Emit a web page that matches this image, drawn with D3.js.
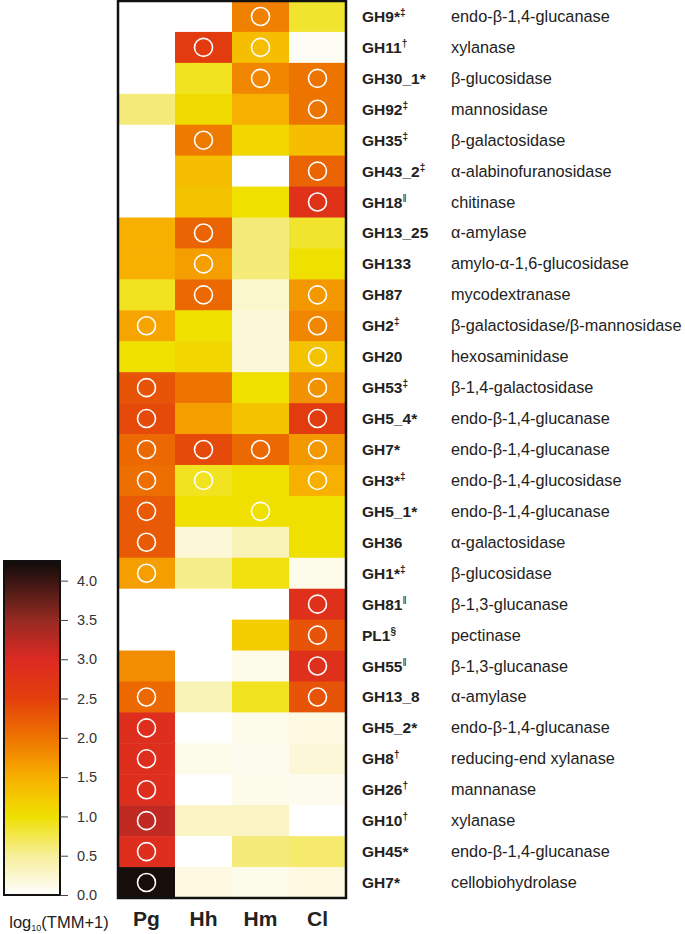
<!DOCTYPE html>
<html>
<head>
<meta charset="utf-8">
<script src="https://cdn.jsdelivr.net/npm/d3@7"></script>
<style>
  body { margin: 0; background: #fff; }
  svg { display: block; font-family: "Liberation Sans", Arial, sans-serif; }
</style>
</head>
<body>
<svg id="chart"></svg>
<script>
// row labels (top to bottom)
const families = ["GH9","GH11","GH30_1","GH92","GH35","GH43_2","GH18","GH13_25","GH133","GH87",
  "GH2","GH20","GH53","GH5_4","GH7","GH3","GH5_1","GH36","GH1","GH81",
  "PL1","GH55","GH13_8","GH5_2","GH8","GH26","GH10","GH45","GH7"]
const marks = ["*‡","†","*","‡","‡","‡","‖","","","",
  "‡","","‡","*","*","*‡","*","","*‡","‖",
  "§","‖","","*","†","†","†","*","*"]
const enzymes = ["endo-β-1,4-glucanase","xylanase","β-glucosidase","mannosidase","β-galactosidase",
  "α-alabinofuranosidase","chitinase","α-amylase","amylo-α-1,6-glucosidase","mycodextranase",
  "β-galactosidase/β-mannosidase","hexosaminidase","β-1,4-galactosidase","endo-β-1,4-glucanase",
  "endo-β-1,4-glucanase","endo-β-1,4-glucosidase","endo-β-1,4-glucanase","α-galactosidase",
  "β-glucosidase","β-1,3-glucanase","pectinase","β-1,3-glucanase","α-amylase",
  "endo-β-1,4-glucanase","reducing-end xylanase","mannanase","xylanase","endo-β-1,4-glucanase",
  "cellobiohydrolase"]
const species = ["Pg","Hh","Hm","Cl"]

// log10(TMM+1) per species
const pg = [0,0,0,0.6,0,0,0,1.5,1.5,0.9, 1.6,1.0,2.3,2.4,2.1,2.05,2.25,2.25,1.65,0, 0,1.8,2.1,2.9,2.9,2.9,3.2,2.9,4.2]
const hh = [0,2.6,0.9,1.05,1.95,1.35,1.3,2.15,1.65,2.1, 1.0,1.1,2.0,1.65,2.4,0.9,1.0,0.2,0.55,0, 0,0,0.35,0,0.1,0,0.3,0,0.15]
const hm = [1.9,1.35,1.85,1.5,1.1,0,1.0,0.6,0.6,0.25, 0.2,0.2,1.0,1.3,2.1,1.0,1.0,0.35,0.95,0, 1.2,0.1,0.9,0.1,0.08,0.1,0.3,0.6,0.1]
const cl = [0.85,0.05,2.0,2.0,1.35,2.15,2.8,0.85,1.0,1.7, 1.85,1.3,1.75,2.6,1.7,1.5,1.0,1.0,0.1,2.85, 2.3,2.85,2.3,0.15,0.2,0.08,0,0.65,0.15]

// circled cells
const pgC = [0,0,0,0,0,0,0,0,0,0, 1,0,1,1,1,1,1,1,1,0, 0,0,1,1,1,1,1,1,1]
const hhC = [0,1,0,0,1,0,0,1,1,1, 0,0,0,0,1,1,0,0,0,0, 0,0,0,0,0,0,0,0,0]
const hmC = [1,1,1,0,0,0,0,0,0,0, 0,0,0,0,1,0,1,0,0,0, 0,0,0,0,0,0,0,0,0]
const clC = [0,0,1,1,0,1,1,0,0,1, 1,1,1,1,1,1,0,0,0,1, 1,1,1,0,0,0,0,0,0]

const colorTicks = [0,0.5,1,1.5,2,2.5,3,3.5,4]

const values = [pg, hh, hm, cl]
const circles = [pgC, hhC, hmC, clC]
const cells = []
for (let r = 0; r < families.length; r++) {
  for (let c = 0; c < species.length; c++) {
    cells.push({row: r, col: species[c], value: values[c][r], circle: circles[c][r]})
  }
}

const width = 685, height = 934
const svg = d3.select("#chart")
  .attr("width", width)
  .attr("height", height)
  .attr("viewBox", [0, 0, width, height])

const color = d3.scaleLinear()
  .domain([0, 0.5, 1.0, 1.5, 2.0, 2.5, 3.0, 3.5, 4.25])
  .range(["#ffffff","#f7ee9a","#efe000","#f8b000","#ee7400","#e33f0c","#dc2a22","#952a22","#0e0c0a"])
  .clamp(true)

const x = d3.scaleBand().domain(species).range([118, 346])
const y = d3.scaleBand().domain(d3.range(families.length)).range([1, 898])

// heatmap cells
svg.append("g")
  .selectAll("rect")
  .data(cells)
  .join("rect")
    .attr("x", d => x(d.col))
    .attr("y", d => y(d.row))
    .attr("width", x.bandwidth() + 0.5)
    .attr("height", y.bandwidth() + 0.5)
    .attr("fill", d => color(d.value))

svg.append("g")
  .selectAll("circle")
  .data(cells.filter(d => d.circle))
  .join("circle")
    .attr("cx", d => x(d.col) + x.bandwidth() / 2)
    .attr("cy", d => y(d.row) + y.bandwidth() / 2)
    .attr("r", 9)
    .attr("fill", "none")
    .attr("stroke", "#fff")
    .attr("stroke-width", 1.6)

svg.append("rect")
  .attr("x", 118).attr("y", 1)
  .attr("width", 228).attr("height", 897)
  .attr("fill", "none")
  .attr("stroke", "#111")
  .attr("stroke-width", 2.5)

// column labels
svg.append("g")
  .selectAll("text")
  .data(species)
  .join("text")
    .attr("x", d => x(d) + x.bandwidth() / 2)
    .attr("y", 926)
    .attr("text-anchor", "middle")
    .attr("font-size", 21)
    .attr("font-weight", "bold")
    .attr("fill", "#222")
    .text(d => d)

// row labels
const rowLab = svg.append("g")
  .selectAll("g")
  .data(families)
  .join("g")
    .attr("transform", (d, i) => `translate(0, ${y(i) + y.bandwidth() / 2 + 5.5})`)

const fam = rowLab.append("text")
  .attr("x", 362)
  .attr("font-size", 15.5)
  .attr("font-weight", "bold")
  .attr("fill", "#222")
fam.append("tspan").text(d => d)
fam.append("tspan").text((d, i) => marks[i].includes("*") ? "*" : "")
fam.append("tspan")
  .attr("font-size", 10)
  .attr("dy", -6)
  .attr("font-weight", (d, i) => marks[i].includes("‖") ? "normal" : "bold")
  .text((d, i) => marks[i].replace("*", ""))

rowLab.append("text")
  .attr("x", 451)
  .attr("font-size", 16.3)
  .attr("fill", "#222")
  .text((d, i) => enzymes[i])

// colour bar
const cbY = d3.scaleLinear().domain([0, 4.25]).range([895, 561])
const defs = svg.append("defs")
const grad = defs.append("linearGradient")
  .attr("id", "cbar")
  .attr("x1", 0).attr("y1", 1).attr("x2", 0).attr("y2", 0)
grad.selectAll("stop")
  .data(d3.range(0, 4.26, 0.05))
  .join("stop")
    .attr("offset", d => d / 4.25)
    .attr("stop-color", d => color(d))

svg.append("rect")
  .attr("x", 4).attr("y", cbY(4.25))
  .attr("width", 56).attr("height", cbY(0) - cbY(4.25))
  .attr("fill", "url(#cbar)")
  .attr("stroke", "#111")
  .attr("stroke-width", 2)

const cbAxis = svg.append("g")
  .attr("transform", "translate(60,0)")
  .call(d3.axisRight(cbY).tickValues(colorTicks).tickFormat(d3.format(".1f")).tickSize(8).tickPadding(9))
cbAxis.select(".domain").remove()
cbAxis.selectAll("line").attr("stroke", "#444")
cbAxis.selectAll("text")
  .attr("font-size", 14.5)
  .attr("font-family", "Liberation Sans, Arial, sans-serif")
  .attr("fill", "#333")

const cbLab = svg.append("text")
  .attr("x", 59).attr("y", 928)
  .attr("text-anchor", "middle")
  .attr("font-size", 16.5)
  .attr("fill", "#222")
cbLab.append("tspan").text("log")
cbLab.append("tspan").attr("font-size", 9).attr("dy", 3).text("10")
cbLab.append("tspan").attr("dy", -3).text("(TMM+1)")
</script>
</body>
</html>
